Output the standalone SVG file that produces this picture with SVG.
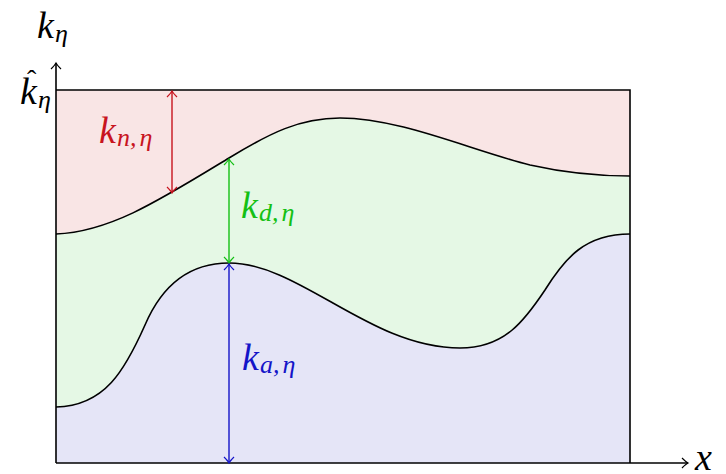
<svg xmlns="http://www.w3.org/2000/svg" width="726" height="474" viewBox="0 0 726 474">
<defs>
<marker id="hr" viewBox="-8 -6 10 12" markerWidth="10" markerHeight="12" refX="0" refY="0" orient="auto-start-reverse" markerUnits="userSpaceOnUse">
<path d="M-6,-5 Q-2,-1 0,0 Q-2,1 -6,5" fill="none" stroke="#c8141e" stroke-width="1.2"/>
</marker>
<marker id="hg" viewBox="-8 -6 10 12" markerWidth="10" markerHeight="12" refX="0" refY="0" orient="auto-start-reverse" markerUnits="userSpaceOnUse">
<path d="M-6,-5 Q-2,-1 0,0 Q-2,1 -6,5" fill="none" stroke="#14c014" stroke-width="1.2"/>
</marker>
<marker id="hb" viewBox="-8 -6 10 12" markerWidth="10" markerHeight="12" refX="0" refY="0" orient="auto-start-reverse" markerUnits="userSpaceOnUse">
<path d="M-6,-5 Q-2,-1 0,0 Q-2,1 -6,5" fill="none" stroke="#1414c8" stroke-width="1.2"/>
</marker>
<marker id="ha" viewBox="-8 -6 10 12" markerWidth="10" markerHeight="12" refX="0" refY="0" orient="auto" markerUnits="userSpaceOnUse">
<path d="M-6,-5 Q-2,-1 0,0 Q-2,1 -6,5" fill="none" stroke="#000" stroke-width="1.2"/>
</marker>
</defs>
<style>
.lbl{font-family:"Liberation Serif","Times New Roman",serif;font-style:italic;font-size:38px}
.sub{font-size:26px}
.curve{fill:none;stroke:#000;stroke-width:1.6}
.ax{fill:none;stroke:#000;stroke-width:1.6}
</style>
<g id="region-n">
<path d="M56,90 L630,90 L630,176 C600,176 570,174 530,165 C470,150 400,118 340,118 C300,118 270,133 229,158 C160,200 110,232 56,234 Z" fill="#f9e5e5"/>
</g>
<g id="region-d">
<path d="M56,234 C110,232 160,200 229,158 C270,133 300,118 340,118 C400,118 470,150 530,165 C570,174 600,176 630,176 L630,234 C585,234 565,258 545,290 C525,320 505,348 460,348 C370,348 300,263 229,263 C185,263 160,290 145,325 C125,370 105,406 56,407 Z" fill="#e5f8e5"/>
</g>
<g id="region-a">
<path d="M56,407 C105,406 125,370 145,325 C160,290 185,263 229,263 C300,263 370,348 460,348 C505,348 525,320 545,290 C565,258 585,234 630,234 L630,463 L56,463 Z" fill="#e5e5f7"/>
</g>
<g id="boundaries">
<path class="curve" d="M56,234 C110,232 160,200 229,158 C270,133 300,118 340,118 C400,118 470,150 530,165 C570,174 600,176 630,176"/>
<path class="curve" d="M56,407 C105,406 125,370 145,325 C160,290 185,263 229,263 C300,263 370,348 460,348 C505,348 525,320 545,290 C565,258 585,234 630,234"/>
<path class="ax" d="M56,90 L630,90 L630,463"/>
</g>
<g id="axes">
<line class="ax" x1="56" y1="463" x2="56" y2="63" marker-end="url(#ha)"/>
<line class="ax" x1="56" y1="463" x2="688" y2="463" marker-end="url(#ha)"/>
<text class="lbl" x="37" y="38">k<tspan class="sub" dx="1" dy="4">η</tspan></text>
<text class="lbl" x="20" y="104">k<tspan class="sub" dx="1" dy="4">η</tspan></text>
<text x="27" y="89" font-family="Liberation Serif, serif" font-size="28">ˆ</text>
<text class="lbl" x="695" y="470">x</text>
</g>
<g id="connectors">
<line x1="172" y1="91" x2="172" y2="193" stroke="#c8141e" stroke-width="1.4" marker-start="url(#hr)" marker-end="url(#hr)"/>
<line x1="229" y1="159" x2="229" y2="263" stroke="#14c014" stroke-width="1.4" marker-start="url(#hg)" marker-end="url(#hg)"/>
<line x1="229" y1="264" x2="229" y2="463" stroke="#1414c8" stroke-width="1.4" marker-start="url(#hb)" marker-end="url(#hb)"/>
</g>
<g id="label-n">
<text class="lbl" x="99" y="143" fill="#c8141e">k<tspan class="sub" dx="1" dy="3">n,</tspan><tspan class="sub" dx="3">η</tspan></text>
</g>
<g id="label-d">
<text class="lbl" x="241" y="218" fill="#14c014">k<tspan class="sub" dx="1" dy="3">d,</tspan><tspan class="sub" dx="3">η</tspan></text>
</g>
<g id="label-a">
<text class="lbl" x="242" y="370" fill="#1414c8">k<tspan class="sub" dx="1" dy="3">a,</tspan><tspan class="sub" dx="3">η</tspan></text>
</g>
</svg>
